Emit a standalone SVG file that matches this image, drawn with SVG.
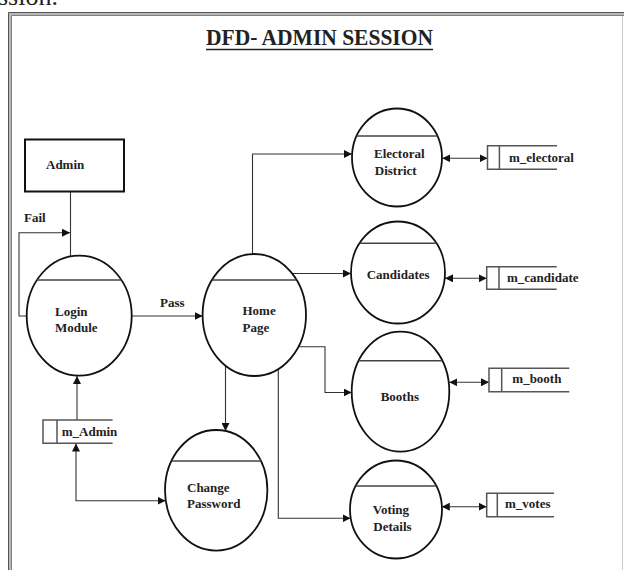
<svg xmlns="http://www.w3.org/2000/svg" width="624" height="570" viewBox="0 0 624 570">
<defs>
<marker id="ah" markerUnits="userSpaceOnUse" markerWidth="9" markerHeight="8" refX="8" refY="4" orient="auto-start-reverse">
<path d="M0,0 L8,4 L0,8 z" fill="#111"/>
</marker>
<style>
.t{font-family:"Liberation Serif","Times New Roman",serif;font-size:13px;font-weight:bold;fill:#222}
.p{fill:#fff;stroke:#111;stroke-width:1.8}
.hl{stroke:#444;stroke-width:1.5}
.c{fill:none;stroke:#333;stroke-width:1.1}
.a{marker-end:url(#ah)}
.b{marker-start:url(#ah);marker-end:url(#ah)}
.s{fill:none;stroke:#555;stroke-width:1.5}
</style>
</defs>
<rect width="624" height="570" fill="#fff"/>
<text x="-2" y="5" style="font-family:'Liberation Serif',serif;font-size:26px;fill:#222">ssion.</text>
<g id="frame" fill="none">
<path d="M8.5,570 V12.5 H624" stroke="#555" stroke-width="1"/>
<path d="M10,570 V14 H624" stroke="#b8b8b8" stroke-width="2"/>
<path d="M11.5,570 V15.5 H624" stroke="#808080" stroke-width="1"/>
<line x1="622.5" y1="16" x2="622.5" y2="570" stroke="#ccc" stroke-width="1"/>
</g>
<g id="title">
<text x="206" y="45" textLength="227" lengthAdjust="spacingAndGlyphs" style="font-family:'Liberation Serif',serif;font-size:22.5px;font-weight:bold;fill:#222">DFD- ADMIN SESSION</text>
<line x1="206" y1="49.5" x2="433" y2="49.5" stroke="#222" stroke-width="1.6"/>
</g>
<g id="connectors">
<path class="c" d="M70.5,192 V256.5"/>
<path class="c a" d="M26.7,316 H19 V232.7 H70"/>
<path class="c a" d="M131.7,316 H202.7"/>
<path class="c a" d="M252.5,254.5 V154 H352"/>
<path class="c a" d="M292.2,273.5 H351"/>
<path class="c a" d="M298.5,346.7 H325 V392.5 H351.7"/>
<path class="c a" d="M225.5,366 V431"/>
<path class="c a" d="M278.3,369 V518.3 H350.5"/>
<path class="c a" d="M77,420 V376"/>
<path class="c b" d="M76,443.5 V500.7 H165.5"/>
<path class="c b" d="M442.3,158.3 H487.5"/>
<path class="c b" d="M445,278.3 H486.7"/>
<path class="c b" d="M449.3,382.3 H489"/>
<path class="c b" d="M441.8,506.7 H486.7"/>
</g>
<g id="admin">
<rect x="25" y="139.5" width="99" height="52" fill="#fff" stroke="#111" stroke-width="2"/>
<text class="t" x="46" y="169.3">Admin</text>
</g>
<text id="fail-label" class="t" x="24" y="221.7">Fail</text>
<text id="pass-label" class="t" x="160" y="306.7">Pass</text>
<g id="login">
<ellipse class="p" cx="79.2" cy="315.7" rx="52.5" ry="60"/>
<line class="hl" x1="37" y1="280" x2="121.4" y2="280"/>
<text class="t" x="55" y="316">Login</text>
<text class="t" x="55" y="331.7">Module</text>
</g>
<g id="home">
<ellipse class="p" cx="254.3" cy="315" rx="51.7" ry="61"/>
<line class="hl" x1="212" y1="280" x2="296.6" y2="280"/>
<text class="t" x="242.5" y="315">Home</text>
<text class="t" x="242.5" y="331.7">Page</text>
</g>
<g id="electoral">
<ellipse class="p" cx="397" cy="157.5" rx="45" ry="49"/>
<line class="hl" x1="356.6" y1="136" x2="437.4" y2="136"/>
<text class="t" x="374" y="158.3">Electoral</text>
<text class="t" x="374.8" y="175">District</text>
</g>
<g id="candidates">
<ellipse class="p" cx="398" cy="272.5" rx="47" ry="51"/>
<line class="hl" x1="359.5" y1="243.3" x2="436.5" y2="243.3"/>
<text class="t" x="366.7" y="279.3">Candidates</text>
</g>
<g id="booths">
<ellipse class="p" cx="400.5" cy="391.6" rx="48.8" ry="60"/>
<line class="hl" x1="358.7" y1="360.7" x2="442.3" y2="360.7"/>
<text class="t" x="380.7" y="401">Booths</text>
</g>
<g id="change-password">
<ellipse class="p" cx="216.2" cy="490.3" rx="51.2" ry="60.3"/>
<line class="hl" x1="171.5" y1="461" x2="261" y2="461"/>
<text class="t" x="187" y="491.7">Change</text>
<text class="t" x="187" y="508.3">Password</text>
</g>
<g id="voting">
<ellipse class="p" cx="396" cy="509.5" rx="46" ry="49"/>
<line class="hl" x1="355.6" y1="486" x2="436.4" y2="486"/>
<text class="t" x="372.7" y="514">Voting</text>
<text class="t" x="373.3" y="530.7">Details</text>
</g>
<g id="m_electoral">
<path class="s" d="M557,145.7 H487.5 V169.3 H557 M499.4,145.7 V169.3"/>
<text class="t" x="509" y="161.7">m_electoral</text>
</g>
<g id="m_candidate">
<path class="s" d="M556.7,266.7 H486.7 V289.3 H556.7 M499,266.7 V289.3"/>
<text class="t" x="507" y="282.3">m_candidate</text>
</g>
<g id="m_booth">
<path class="s" d="M569.3,368.3 H489 V391.7 H569.3 M501.7,368.3 V391.7"/>
<text class="t" x="512.3" y="383.3">m_booth</text>
</g>
<g id="m_votes">
<path class="s" d="M554,493.3 H486.7 V516.7 H554 M497.3,493.3 V516.7"/>
<text class="t" x="505" y="508.3">m_votes</text>
</g>
<g id="m_Admin">
<path class="s" d="M112.6,420 H43 V443.3 H112.6 M57,420 V443.3"/>
<text class="t" x="61.7" y="436">m_Admin</text>
</g>
</svg>
